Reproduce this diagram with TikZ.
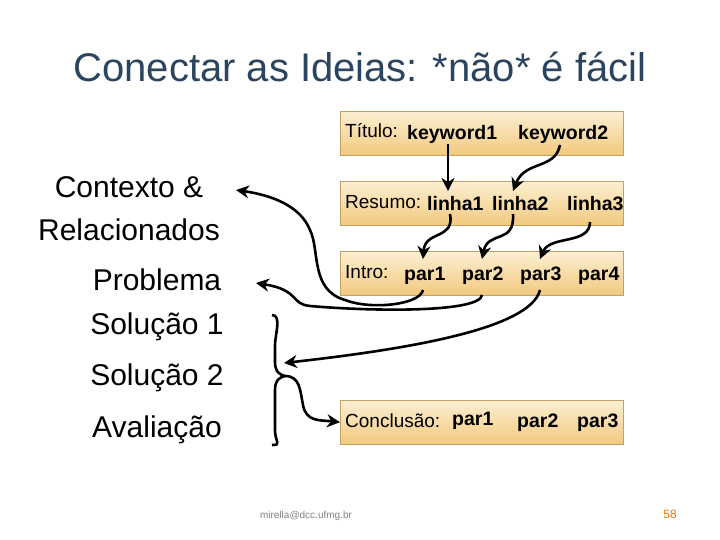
\documentclass[tikz,border=0pt]{standalone}
\usepackage{fontspec}
\setmainfont{Liberation Sans}
\usetikzlibrary{arrows.meta}
\definecolor{titc}{HTML}{2B4560}
\definecolor{boxtop}{HTML}{FCEFD2}
\definecolor{boxbot}{HTML}{F2C97E}
\begin{document}
\begin{tikzpicture}[x=1pt,y=-1pt,
  box/.style={minimum width=283pt,minimum height=44pt,anchor=north west,inner sep=0pt,
    top color=boxtop,bottom color=boxbot,draw=boxbot!80!black,line width=0.4pt},
  lab/.style={font=\fontsize{19}{22}\selectfont,anchor=base west,inner sep=0pt},
  kw/.style={font=\fontsize{19.5}{22}\selectfont\bfseries,anchor=base west,inner sep=0pt},
  side/.style={font=\fontsize{30}{34}\selectfont,inner sep=0pt},
  arr/.style={-{Stealth[length=13pt,width=13pt]},line width=2.6pt}]
\useasboundingbox (0,0) rectangle (720,540);
\node[font=\fontsize{40}{46}\selectfont,text=titc] (title) at (360,67) {Conectar as Ideias: *não* é fácil};
\node[box] (b1) at (340,111) {};
\node[box] (b2) at (340,181) {};
\node[box] (b3) at (340,251) {};
\node[box] (b4) at (340,400) {};
\node[lab] (t1) at (345,138) {Título:};
\node[kw] (k1) at (407,140) {keyword1};
\node[kw] (k2) at (518,140) {keyword2};
\node[lab] (t2) at (345,209) {Resumo:};
\node[kw] (l1) at (427,211) {linha1};
\node[kw] (l2) at (492,211) {linha2};
\node[kw] (l3) at (567,211) {linha3};
\node[lab] (t3) at (345,278) {Intro:};
\node[kw] (p1) at (404,280) {par1};
\node[kw] (p2) at (462,280) {par2};
\node[kw] (p3) at (520,280) {par3};
\node[kw] (p4) at (578,280) {par4};
\node[lab] (t4) at (345,427) {Conclusão:};
\node[kw] (c1) at (452,425) {par1};
\node[kw] (c2) at (517,427) {par2};
\node[kw] (c3) at (577,427) {par3};
\node[side] (s1) at (129,187) {Contexto \&};
\node[side] (s2) at (129,230) {Relacionados};
\node[side] (s3) at (157,280) {Problema};
\node[side] (s4) at (157,327) {Solução 1};
\node[side] (s5) at (157,378) {Solução 2};
\node[side] (s6) at (157,430) {Avaliação};
\node[font=\fontsize{10}{12}\selectfont,text=gray] (mail) at (306,516) {mirella@dcc.ufmg.br};
\node[font=\fontsize{12}{14}\selectfont,text=orange!90!red] (pg) at (670,514) {58};
\coordinate (br1) at (272,315);
\coordinate (br2) at (272,445);
\draw[line width=2.6pt] (br1) .. controls (282,315) and (275,335) .. (275,345) -- (275,362)
  .. controls (275,372) and (280,375) .. (285,376)
  .. controls (280,377) and (275,380) .. (275,390) -- (275,430)
  .. controls (275,442) and (282,445) .. (272,445);
\coordinate (bm) at (285,376);
\draw[arr] (bm) .. controls (300,376) and (300,390) .. (303,405) .. controls (306,422) and (320,420) .. (b4.west);
\coordinate (k1s) at (448,144);
\draw[arr] (k1s) -- (448,191);
\draw[arr] (560,145) .. controls (555,170) and (525,160) .. (513,191);
\draw[arr] (450,214) .. controls (455,240) and (425,230) .. (423,259);
\draw[arr] (513,214) .. controls (515,245) and (488,230) .. (482,259);
\draw[arr] (590,222) .. controls (590,245) and (550,235) .. (540,259);
\draw[arr] (423,290) .. controls (420,305) and (370,310) .. (345,300)
  .. controls (310,290) and (320,250) .. (310,230) .. controls (300,205) and (270,195) .. (236,190);
\draw[arr] (482,295) .. controls (480,312) and (380,312) .. (310,306)
  .. controls (290,304) and (300,290) .. (256,283);
\draw[arr] (540,290) .. controls (530,330) and (400,350) .. (284,363);
\end{tikzpicture}
\end{document}
